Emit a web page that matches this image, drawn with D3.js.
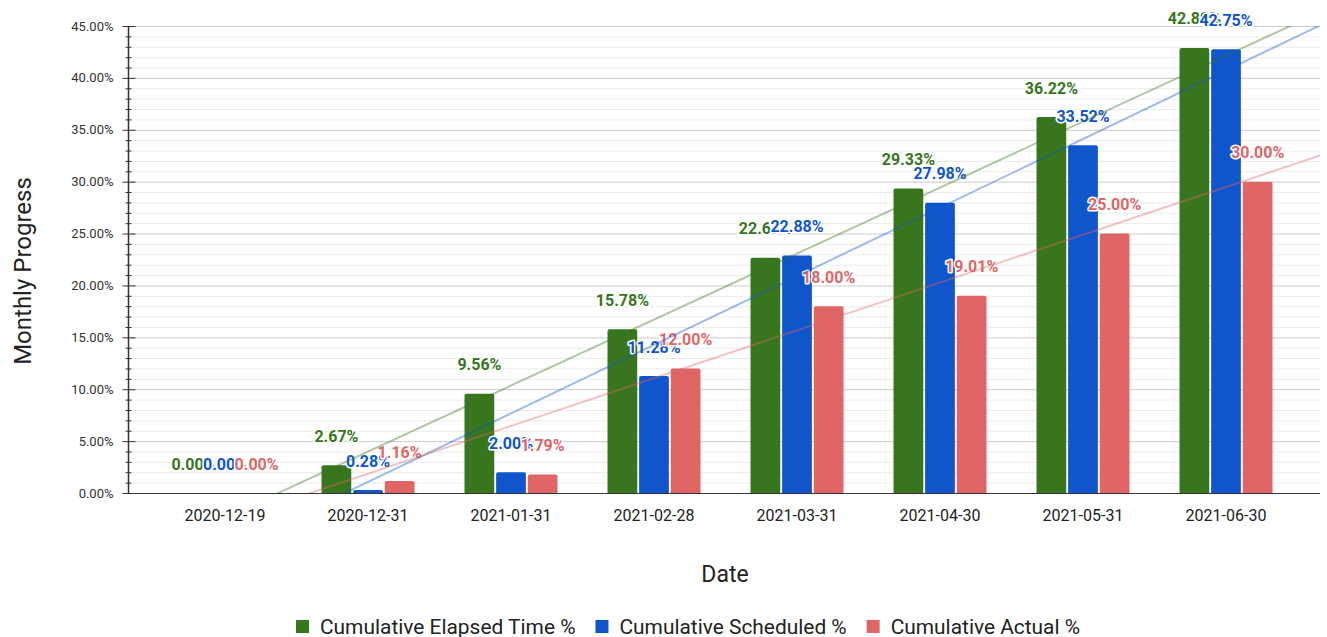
<!DOCTYPE html>
<html lang="en">
<head>
<meta charset="UTF-8">
<title></title>
<style>
  body { margin: 0; background: #fff; }
  svg text { font-family: Roboto, "Noto Sans", sans-serif; }
</style>
</head>
<body>
<svg id="chart" width="1327" height="637"></svg>
<script src="https://cdn.jsdelivr.net/npm/d3@7"></script>
<script>
var dates = ["2020-12-19", "2020-12-31", "2021-01-31", "2021-02-28", "2021-03-31", "2021-04-30", "2021-05-31", "2021-06-30"];
var elapsed = [0, 2.67, 9.56, 15.78, 22.67, 29.33, 36.22, 42.89];
var scheduled = [0, 0.28, 2.00, 11.28, 22.88, 27.98, 33.52, 42.75];
var actual = [0, 1.16, 1.79, 12.00, 18.00, 19.01, 25.00, 30.00];
var seriesNames = ["Cumulative Elapsed Time %", "Cumulative Scheduled %", "Cumulative Actual %"];
var colors = ["#38761d", "#1155cc", "#e06666"];
var yTicks = [0, 5, 10, 15, 20, 25, 30, 35, 40, 45];

var series = [elapsed, scheduled, actual];
var svg = d3.select("#chart");
var plotL = 130, plotR = 1320, plotT = 26, plotB = 493;

var x = d3.scaleBand().domain(dates).range([153.5, 1297.5]);
var xs = d3.scaleBand().domain([0, 1, 2]).range([0, 93]).paddingInner(0.06);
var y = d3.scaleLinear().domain([0, 45]).range([plotB, plotT]);

// gridlines
var minor = d3.range(0, 46, 1).filter(function (d) { return d % 5 !== 0; });
svg.append("g").selectAll("line").data(minor).enter().append("line")
  .attr("x1", plotL).attr("x2", plotR)
  .attr("y1", function (d) { return y(d) + 0.5; }).attr("y2", function (d) { return y(d) + 0.5; })
  .attr("stroke", "#ebebeb");
svg.append("g").selectAll("line").data(yTicks.slice(1)).enter().append("line")
  .attr("x1", plotL).attr("x2", plotR)
  .attr("y1", function (d) { return y(d) + 0.5; }).attr("y2", function (d) { return y(d) + 0.5; })
  .attr("stroke", "#cccccc");

// bars
var groups = svg.append("g").selectAll("g").data(dates).enter().append("g")
  .attr("transform", function (d) { return "translate(" + (x(d) + x.bandwidth() / 2 - 46.5) + ",0)"; });
series.forEach(function (s, k) {
  groups.append("path")
    .attr("fill", colors[k])
    .attr("d", function (d, i) {
      var x0 = xs(k), w = xs.bandwidth(), y0 = y(s[i]), h = plotB - y0, r = Math.min(2, h);
      if (h <= 0) return "";
      return "M" + x0 + "," + plotB + "V" + (y0 + r) + "Q" + x0 + "," + y0 + " " + (x0 + r) + "," + y0 +
        "H" + (x0 + w - r) + "Q" + (x0 + w) + "," + y0 + " " + (x0 + w) + "," + (y0 + r) + "V" + plotB + "Z";
    });
});

// trendlines (linear regression on category index)
svg.append("clipPath").attr("id", "plot").append("rect")
  .attr("x", plotL).attr("y", plotT).attr("width", plotR - plotL).attr("height", plotB - plotT);
var idxToX = d3.scaleLinear().domain([0, 1]).range([x(dates[0]) + x.bandwidth() / 2, x(dates[1]) + x.bandwidth() / 2]);
series.forEach(function (s, k) {
  var mx = d3.mean(s, function (d, i) { return i; }), my = d3.mean(s);
  var num = d3.sum(s, function (d, i) { return (i - mx) * (d - my); });
  var den = d3.sum(s, function (d, i) { return (i - mx) * (i - mx); });
  var m = num / den, b = my - m * mx;
  var i0 = idxToX.invert(plotL), i1 = idxToX.invert(plotR);
  svg.append("line").attr("clip-path", "url(#plot)")
    .attr("x1", plotL).attr("y1", y(m * i0 + b))
    .attr("x2", plotR).attr("y2", y(m * i1 + b))
    .attr("stroke", colors[k]).attr("stroke-opacity", 0.4).attr("stroke-width", 2);
});

// baseline + y axis
svg.append("line").attr("x1", plotL).attr("x2", plotR).attr("y1", plotB + 0.5).attr("y2", plotB + 0.5)
  .attr("stroke", "#333").attr("stroke-width", 1);
var yAxis = svg.append("g").attr("transform", "translate(" + (plotL - 1.5) + ",0)");
yAxis.append("line").attr("x1", 0).attr("x2", 0).attr("y1", plotT).attr("y2", plotB + 1).attr("stroke", "#333").attr("stroke-width", 1.5);
yAxis.selectAll(".mt").data(minor).enter().append("line")
  .attr("x1", -3).attr("x2", 3)
  .attr("y1", function (d) { return y(d) + 0.5; }).attr("y2", function (d) { return y(d) + 0.5; })
  .attr("stroke", "#333");
yAxis.selectAll(".Mt").data(yTicks).enter().append("line")
  .attr("x1", -6).attr("x2", 7)
  .attr("y1", function (d) { return y(d) + 0.5; }).attr("y2", function (d) { return y(d) + 0.5; })
  .attr("stroke", "#333");
yAxis.selectAll("text").data(yTicks).enter().append("text")
  .attr("x", -15).attr("y", function (d) { return y(d); }).attr("dy", "0.35em")
  .attr("text-anchor", "end").attr("font-size", 13).attr("fill", "#333")
  .text(function (d) { return d.toFixed(2) + "%"; });

// x tick labels
svg.append("g").selectAll("text").data(dates).enter().append("text")
  .attr("x", function (d) { return x(d) + x.bandwidth() / 2; }).attr("y", 521)
  .attr("text-anchor", "middle").attr("font-size", 16).attr("fill", "#222")
  .text(function (d) { return d; });

// data labels
series.forEach(function (s, k) {
  groups.append("text")
    .attr("x", xs(k) + xs.bandwidth() / 2)
    .attr("y", function (d, i) { return y(s[i]) - 29; })
    .attr("dy", "0.35em").attr("text-anchor", "middle")
    .attr("font-size", 16).attr("font-weight", "bold")
    .attr("fill", colors[k]).attr("stroke", "#fff").attr("stroke-width", 3)
    .attr("paint-order", "stroke").attr("stroke-linejoin", "round")
    .text(function (d, i) { return s[i].toFixed(2) + "%"; });
});

// axis titles
svg.append("text").attr("x", 725).attr("y", 582).attr("text-anchor", "middle")
  .attr("font-size", 23).attr("fill", "#222").text("Date");
svg.append("text").attr("transform", "translate(31,271) rotate(-90)").attr("text-anchor", "middle")
  .attr("font-size", 24).attr("fill", "#222").text("Monthly Progress");

// legend
var legend = svg.append("g");
var lx = 296;
seriesNames.forEach(function (name, k) {
  legend.append("rect").attr("x", lx).attr("y", 620).attr("width", 13).attr("height", 13).attr("fill", colors[k]);
  var t = legend.append("text").attr("x", lx + 24).attr("y", 634).attr("font-size", 20.9).attr("fill", "#222").text(name);
  lx += 24 + t.node().getComputedTextLength() + 20;
});
</script>
</body>
</html>
